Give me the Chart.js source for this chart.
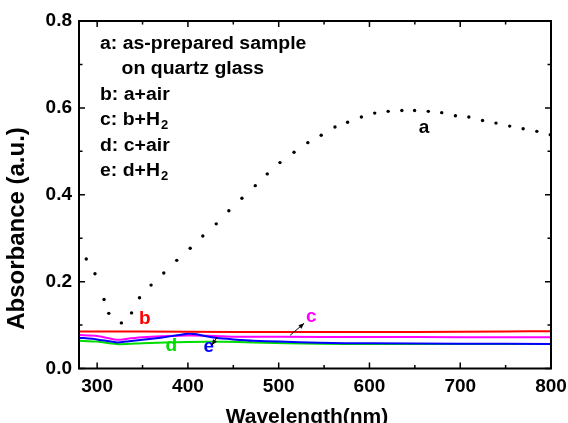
<!DOCTYPE html>
<html>
<head>
<meta charset="utf-8">
<script src="https://cdn.jsdelivr.net/npm/chart.js@4.4.1/dist/chart.umd.min.js"></script>
<style>
  body{margin:0;background:#fff;}
  #wrap{width:568px;height:423px;}
</style>
</head>
<body>
<div id="wrap"><canvas id="chart" width="568" height="423"></canvas></div>
<script>
// DATA
// a: dotted curve, one value per dot
const wlA = [288,297.6,307.6,312.8,326.7,337.9,346.7,359.4,373.4,387.7,402.5,416.4,431.2,445.1,459.5,474.2,487.4,501.4,516.9,532.1,546.8,562,575.9,591.1,605.8,620.6,635.7,649.7,664.8,679.6,694.7,709.5,724.6,739.4,754.5,769.3,784.4,799.2];
const absA = [0.252,0.218,0.159,0.127,0.105,0.128,0.163,0.192,0.220,0.249,0.277,0.305,0.333,0.363,0.392,0.421,0.448,0.474,0.498,0.520,0.537,0.556,0.567,0.579,0.588,0.592,0.594,0.594,0.592,0.589,0.582,0.579,0.571,0.565,0.558,0.552,0.546,0.538];
// b: a+air
const wlB = [280,350,450,550,650,750,800];
const absB = [0.085,0.085,0.084,0.084,0.084,0.085,0.086];
// c: b+H2
const wlC = [280,300,322,335,350,400,430,450,500,600,700,800];
const absC = [0.077,0.075,0.066,0.069,0.072,0.076,0.075,0.073,0.073,0.0725,0.072,0.072];
// d: c+air
const wlD = [280,300,325,350,400,440,472,545,600,700,800];
const absD = [0.064,0.062,0.056,0.058,0.061,0.0615,0.060,0.057,0.0565,0.0565,0.0565];
// e: d+H2
const wlE = [280,300,322,335,350,370,390,400,410,420,432,450,472,500,545,600,700,800];
const absE = [0.071,0.067,0.060,0.063,0.066,0.071,0.077,0.080,0.079,0.074,0.070,0.067,0.064,0.062,0.059,0.058,0.057,0.0565];

const xTicks = [300,400,500,600,700,800];
const xMinor = [350,450,550,650,750];
const yTicks = [0,0.2,0.4,0.6,0.8];
const yMinor = [0.1,0.3,0.5,0.7];

const legendLines = [
  ["a: as-prepared sample",""],
  ["    on quartz glass",""],
  ["b: a+air",""],
  ["c: b+H","2"],
  ["d: c+air",""],
  ["e: d+H","2"]
];

const pts=(xs,ys)=>xs.map((v,i)=>({x:v,y:ys[i]}));
const FONT="'Liberation Sans', Arial, sans-serif";

// curve labels, placed in data units
const curveLabels = [
  {t:"a",x:660,y:0.542,c:"#000"},
  {t:"b",x:352.6,y:0.102,c:"#ff0000"},
  {t:"c",x:536,y:0.107,c:"#ff00ff"},
  {t:"d",x:381.7,y:0.041,c:"#00dd00"},
  {t:"e",x:423,y:0.0386,c:"#0000ff"}
];
const arrows = [
  {x1:512.6,y1:0.0764,x2:528,y2:0.104},
  {x1:432,y1:0.0718,x2:426.5,y2:0.054}
];

function stretchText(ctx,txt,x,y,sx){
  ctx.save();
  ctx.translate(x,y);
  ctx.scale(sx,1);
  ctx.fillText(txt,0,0);
  ctx.restore();
}

// FRAME + INWARD TICKS
const framePlugin={
  id:"frame",
  afterDraw(chart){
    const {ctx,chartArea:a,scales:{x,y}}=chart;
    ctx.save();
    ctx.strokeStyle="#000";
    ctx.lineWidth=1.5;
    const tick=(px,len,vert)=>{
      ctx.beginPath();
      if(vert){
        ctx.moveTo(px,a.bottom);ctx.lineTo(px,a.bottom-len);
        ctx.moveTo(px,a.top);ctx.lineTo(px,a.top+len);
      } else {
        ctx.moveTo(a.left,px);ctx.lineTo(a.left+len,px);
        ctx.moveTo(a.right,px);ctx.lineTo(a.right-len,px);
      }
      ctx.stroke();
    };
    xTicks.forEach(v=>tick(x.getPixelForValue(v),6,true));
    xMinor.forEach(v=>tick(x.getPixelForValue(v),3.5,true));
    yTicks.forEach(v=>tick(y.getPixelForValue(v),6,false));
    yMinor.forEach(v=>tick(y.getPixelForValue(v),3.5,false));
    ctx.lineWidth=2;
    ctx.strokeRect(a.left,a.top,a.right-a.left,a.bottom-a.top);
    ctx.restore();
  }
};

// TEXT, LABELS, ARROWS
const notesPlugin={
  id:"notes",
  afterDraw(chart){
    const {ctx,chartArea:a,scales:{x,y}}=chart;
    ctx.save();
    ctx.fillStyle="#000";
    ctx.textAlign="left";
    ctx.textBaseline="alphabetic";
    // legend block
    legendLines.forEach((l,i)=>{
      const bx=a.left+21, by=a.top+27.5+i*25.5;
      ctx.font="bold 18px "+FONT;
      ctx.fillStyle="#000";
      stretchText(ctx,l[0],bx,by,1.08);
      if(l[1]){
        const w=ctx.measureText(l[0]).width*1.08;
        ctx.font="bold 12px "+FONT;
        stretchText(ctx,l[1],bx+w+1,by+4,1.08);
      }
    });
    // curve labels
    ctx.textAlign="center";
    ctx.font="bold 19px "+FONT;
    curveLabels.forEach(l=>{
      ctx.fillStyle=l.c;
      ctx.fillText(l.t,x.getPixelForValue(l.x),y.getPixelForValue(l.y));
    });
    // arrows
    ctx.strokeStyle="#000";ctx.fillStyle="#000";ctx.lineWidth=1;
    arrows.forEach(r=>{
      const x1=x.getPixelForValue(r.x1),y1=y.getPixelForValue(r.y1);
      const x2=x.getPixelForValue(r.x2),y2=y.getPixelForValue(r.y2);
      ctx.beginPath();ctx.moveTo(x1,y1);ctx.lineTo(x2,y2);ctx.stroke();
      const ang=Math.atan2(y2-y1,x2-x1);
      ctx.beginPath();
      ctx.moveTo(x2,y2);
      ctx.lineTo(x2-6*Math.cos(ang-0.4),y2-6*Math.sin(ang-0.4));
      ctx.lineTo(x2-6*Math.cos(ang+0.4),y2-6*Math.sin(ang+0.4));
      ctx.closePath();ctx.fill();
    });
    // axis titles
    ctx.fillStyle="#000";
    ctx.font="bold 21px "+FONT;
    ctx.textAlign="center";
    ctx.fillText("Wavelength(nm)",307,422.5);
    ctx.save();
    ctx.translate(24,228.5);
    ctx.rotate(-Math.PI/2);
    ctx.font="bold 24px "+FONT;
    ctx.fillText("Absorbance (a.u.)",0,0);
    ctx.restore();
    ctx.restore();
  }
};

const lineSet=(label,xs,ys,color)=>({
  label,data:pts(xs,ys),borderColor:color,backgroundColor:color,
  showLine:true,borderWidth:2,pointRadius:0,tension:0.2,fill:false
});

new Chart(document.getElementById("chart"),{
  type:"scatter",
  data:{
    datasets:[
      {label:"a",data:pts(wlA,absA),showLine:false,pointRadius:1.7,pointBorderWidth:0,
       pointBackgroundColor:"#000",borderColor:"#000"},
      lineSet("b",wlB,absB,"#ff0000"),
      lineSet("e",wlE,absE,"#0000ff"),
      lineSet("c",wlC,absC,"#ff00ff"),
      lineSet("d",wlD,absD,"#00dd00")
    ]
  },
  options:{
    responsive:false,
    animation:false,
    devicePixelRatio:1,
    layout:{padding:{top:21,right:17,left:0,bottom:0}},
    plugins:{legend:{display:false},tooltip:{enabled:false}},
    scales:{
      x:{
        type:"linear",min:280,max:800,
        grid:{display:false,drawTicks:false},border:{display:false},
        afterBuildTicks:s=>{s.ticks=xTicks.map(v=>({value:v}));},
        afterFit:s=>{s.height=54.5;s.paddingRight=0;s.paddingLeft=0;},
        ticks:{color:"#000",padding:7,maxRotation:0,font:{family:FONT,weight:"bold",size:19}}
      },
      y:{
        type:"linear",min:0,max:0.8,
        grid:{display:false,drawTicks:false},border:{display:false},
        afterBuildTicks:s=>{s.ticks=yTicks.map(v=>({value:v}));},
        afterFit:s=>{s.width=79;s.paddingTop=0;s.paddingBottom=0;},
        ticks:{color:"#000",padding:7,font:{family:FONT,weight:"bold",size:19},
          callback:v=>Number(v).toFixed(1)}
      }
    }
  },
  plugins:[framePlugin,notesPlugin]
});
</script>
</body>
</html>
